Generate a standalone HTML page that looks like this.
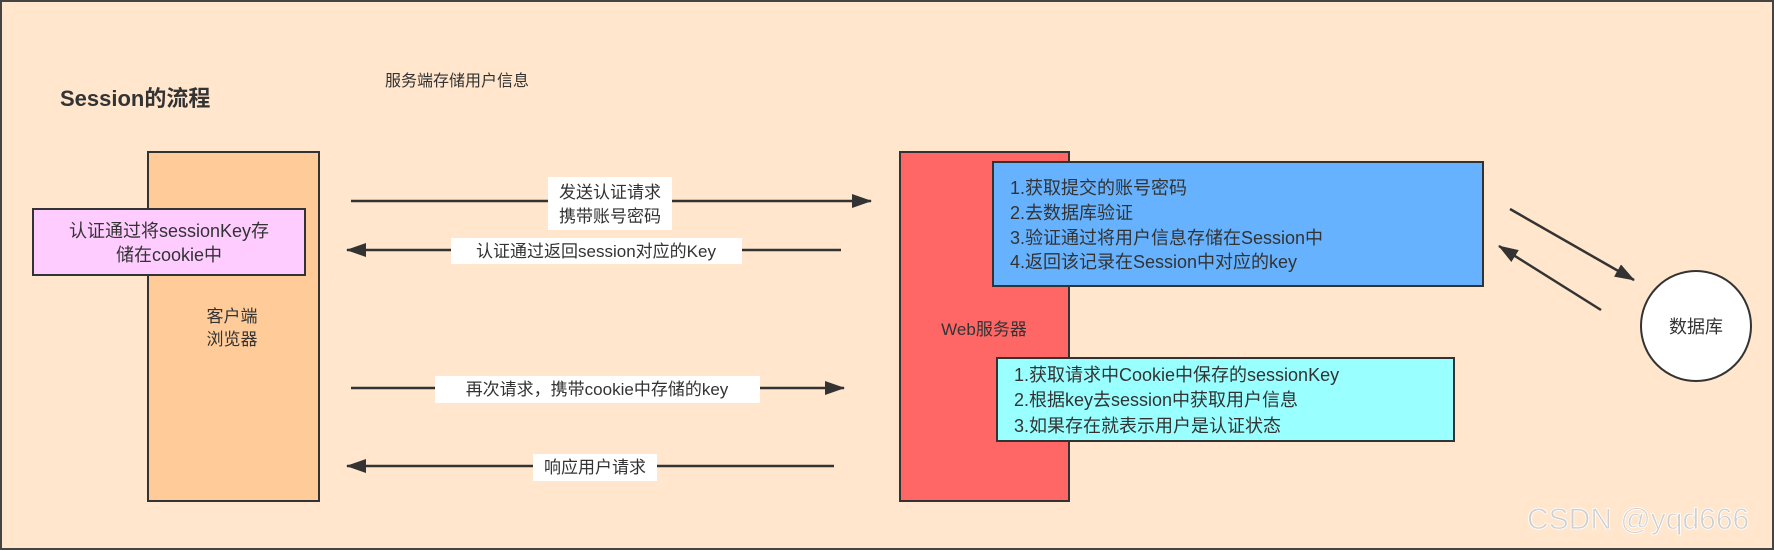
<!DOCTYPE html>
<html><head><meta charset="utf-8"><style>
html,body{margin:0;padding:0;background:#fff}
svg{display:block}
text{font-family:"Liberation Sans","Noto Sans CJK SC",sans-serif;fill:#333}
</style></head><body>
<svg width="1774" height="550" viewBox="0 0 1774 550" xmlns="http://www.w3.org/2000/svg">
<defs>
<marker id="ah" markerWidth="10" markerHeight="10" refX="9" refY="5" orient="auto" markerUnits="userSpaceOnUse" viewBox="0 0 10 10">
<path d="M0,0 L10,5 L0,10 z" fill="#333"/>
</marker>
<marker id="ah2" markerWidth="20" markerHeight="14" refX="19" refY="7" orient="auto" markerUnits="userSpaceOnUse" viewBox="0 0 20 14">
<path d="M0,0 L20,7 L0,14 z" fill="#333"/>
</marker>
</defs>
<rect x="1" y="1" width="1772" height="548" fill="#FFE6CC" stroke="#444" stroke-width="2"/>
<text x="60" y="106" font-size="22" font-weight="bold" fill="#222">Session的流程</text>
<text x="385" y="86" font-size="16">服务端存储用户信息</text>

<rect x="148" y="152" width="171" height="349" fill="#FFCC99" stroke="#333" stroke-width="2"/>
<text x="232" y="322" font-size="17" text-anchor="middle">客户端</text>
<text x="232" y="345" font-size="17" text-anchor="middle">浏览器</text>
<rect x="33" y="209" width="272" height="66" fill="#FFCCFF" stroke="#333" stroke-width="2"/>
<text x="169" y="237" font-size="18" text-anchor="middle">认证通过将sessionKey存</text>
<text x="169" y="261" font-size="18" text-anchor="middle">储在cookie中</text>

<rect x="900" y="152" width="169" height="349" fill="#FF6666" stroke="#333" stroke-width="2"/>
<text x="984" y="335" font-size="17" text-anchor="middle">Web服务器</text>
<rect x="993" y="162" width="490" height="124" fill="#66B2FF" stroke="#333" stroke-width="2"/>
<text font-size="18"><tspan x="1010" y="194">1.获取提交的账号密码</tspan><tspan x="1010" y="219">2.去数据库验证</tspan><tspan x="1010" y="244">3.验证通过将用户信息存储在Session中</tspan><tspan x="1010" y="268">4.返回该记录在Session中对应的key</tspan></text>
<rect x="997" y="358" width="457" height="83" fill="#99FFFF" stroke="#333" stroke-width="2"/>
<text font-size="18"><tspan x="1014" y="381">1.获取请求中Cookie中保存的sessionKey</tspan><tspan x="1014" y="406">2.根据key去session中获取用户信息</tspan><tspan x="1014" y="432">3.如果存在就表示用户是认证状态</tspan></text>

<line x1="351" y1="201" x2="871" y2="201" stroke="#333" stroke-width="2.5" marker-end="url(#ah2)"/>
<rect x="548" y="177" width="124" height="53" fill="#fff"/>
<text x="610" y="198" font-size="17" text-anchor="middle">发送认证请求</text>
<text x="610" y="222" font-size="17" text-anchor="middle">携带账号密码</text>

<line x1="841" y1="250" x2="347" y2="250" stroke="#333" stroke-width="2.5" marker-end="url(#ah2)"/>
<rect x="451" y="238" width="291" height="26" fill="#fff"/>
<text x="596" y="257" font-size="17" text-anchor="middle">认证通过返回session对应的Key</text>

<line x1="351" y1="388" x2="844" y2="388" stroke="#333" stroke-width="2.5" marker-end="url(#ah2)"/>
<rect x="435" y="376" width="325" height="27" fill="#fff"/>
<text x="597" y="395" font-size="17" text-anchor="middle">再次请求，携带cookie中存储的key</text>

<line x1="834" y1="466" x2="347" y2="466" stroke="#333" stroke-width="2.5" marker-end="url(#ah2)"/>
<rect x="533" y="454" width="124" height="27" fill="#fff"/>
<text x="595" y="473" font-size="17" text-anchor="middle">响应用户请求</text>

<line x1="1510" y1="209" x2="1634" y2="280" stroke="#333" stroke-width="2.5" marker-end="url(#ah2)"/>
<line x1="1601" y1="310" x2="1499" y2="246" stroke="#333" stroke-width="2.5" marker-end="url(#ah2)"/>
<ellipse cx="1696" cy="326" rx="55" ry="55" fill="#fff" stroke="#333" stroke-width="2"/>
<text x="1696" y="333" font-size="18" text-anchor="middle">数据库</text>

<text x="1527" y="529" font-size="30" fill="#d0d0d0" stroke="#fff" stroke-width="0.8" style="fill:#cfcfcf">CSDN @yqd666</text>
</svg>
</body></html>
